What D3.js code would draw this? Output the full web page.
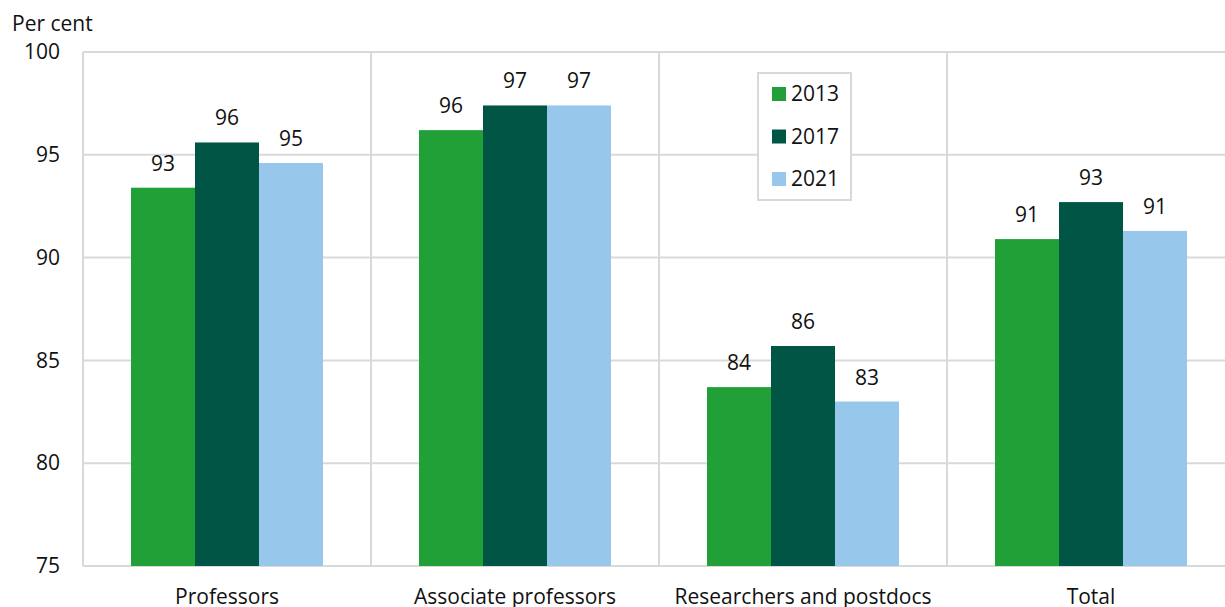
<!DOCTYPE html>
<html>
<head>
<meta charset="utf-8">
<script src="https://cdn.jsdelivr.net/npm/d3@7"></script>
<style>
  body { margin: 0; background: #fff; }
  text { font-family: "Open Sans", sans-serif; fill: #111; }
</style>
</head>
<body>
<svg id="chart" width="1225" height="607"></svg>
<script>
// Chart data
var categories = ["Professors", "Associate professors", "Researchers and postdocs", "Total"];
var years = ["2013", "2017", "2021"];
var values2013 = [93.4, 96.2, 83.7, 90.9];
var values2017 = [95.6, 97.4, 85.7, 92.7];
var values2021 = [94.6, 97.4, 83.0, 91.3];
var yTicks = [75, 80, 85, 90, 95, 100];
var colours = ["#21a038", "#005545", "#97c7eb"];

var series = [values2013, values2017, values2021];

// Size and margins
var margin = {top: 52, left: 83},
  plotW = 1152,
  plotH = 514;
var fontSize = "21px";

var svg = d3.select("#chart");
var g = svg.append("g")
  .attr("transform", "translate(" + margin.left + "," + margin.top + ")");

// Scales
var x0 = d3.scaleBand()
  .domain(categories)
  .range([0, plotW]);

var x1 = d3.scaleBand()
  .domain(years)
  .range([0, x0.bandwidth() * 2 / 3]);

var y = d3.scaleLinear()
  .domain([75, 100])
  .range([plotH, 0]);

// Horizontal gridlines
g.selectAll(".grid")
  .data(yTicks)
  .enter().append("line")
  .attr("x1", 0)
  .attr("x2", plotW)
  .attr("y1", function(d) { return y(d); })
  .attr("y2", function(d) { return y(d); })
  .attr("stroke", "#d9d9d9")
  .attr("stroke-width", 2);

// Vertical separators between categories
g.selectAll(".sep")
  .data(categories)
  .enter().append("line")
  .attr("x1", function(d) { return x0(d); })
  .attr("x2", function(d) { return x0(d); })
  .attr("y1", 0)
  .attr("y2", plotH)
  .attr("stroke", "#d9d9d9")
  .attr("stroke-width", 2);

// Y axis labels
var yAxis = d3.axisLeft(y).tickValues(yTicks).tickSize(0).tickPadding(23);
g.append("g")
  .call(yAxis)
  .call(function(a) { a.select(".domain").remove(); })
  .selectAll("text")
  .style("font-size", fontSize)
  .style("font-family", "Open Sans, sans-serif")
  .attr("fill", "#111");

// X axis labels
var xAxis = d3.axisBottom(x0).tickSize(0).tickPadding(23);
g.append("g")
  .attr("transform", "translate(0," + plotH + ")")
  .call(xAxis)
  .call(function(a) { a.select(".domain").remove(); })
  .selectAll("text")
  .style("font-size", fontSize)
  .style("font-family", "Open Sans, sans-serif")
  .attr("fill", "#111");

// Bars
var groups = g.selectAll(".cat")
  .data(categories)
  .enter().append("g")
  .attr("transform", function(d) {
    return "translate(" + (x0(d) + x0.bandwidth() / 6) + ",0)";
  });

groups.selectAll("rect")
  .data(function(d, i) {
    return years.map(function(yr, j) { return {year: yr, value: series[j][i], colour: colours[j]}; });
  })
  .enter().append("rect")
  .attr("x", function(d) { return x1(d.year); })
  .attr("width", x1.bandwidth())
  .attr("y", function(d) { return y(d.value); })
  .attr("height", function(d) { return plotH - y(d.value); })
  .attr("fill", function(d) { return d.colour; });

groups.selectAll(".val")
  .data(function(d, i) {
    return years.map(function(yr, j) { return {year: yr, value: series[j][i]}; });
  })
  .enter().append("text")
  .attr("x", function(d) { return x1(d.year) + x1.bandwidth() / 2; })
  .attr("y", function(d) { return y(d.value) - 17; })
  .attr("text-anchor", "middle")
  .style("font-size", fontSize)
  .text(function(d) { return Math.round(d.value); });

// Unit label
svg.append("text")
  .attr("x", 12)
  .attr("y", 31)
  .style("font-size", fontSize)
  .text("Per cent");

// Legend
var legend = svg.append("g").attr("transform", "translate(758,73)");
legend.append("rect")
  .attr("width", 93)
  .attr("height", 127)
  .attr("fill", "#fff")
  .attr("stroke", "#d9d9d9")
  .attr("stroke-width", 2);

var li = legend.selectAll(".li")
  .data(years)
  .enter().append("g")
  .attr("transform", function(d, i) { return "translate(14," + (21 + i * 42.5) + ")"; });

li.append("rect")
  .attr("y", -7)
  .attr("width", 14)
  .attr("height", 14)
  .attr("fill", function(d, i) { return colours[i]; });

li.append("text")
  .attr("x", 19)
  .attr("dy", "0.35em")
  .style("font-size", fontSize)
  .text(function(d) { return d; });
</script>
</body>
</html>
